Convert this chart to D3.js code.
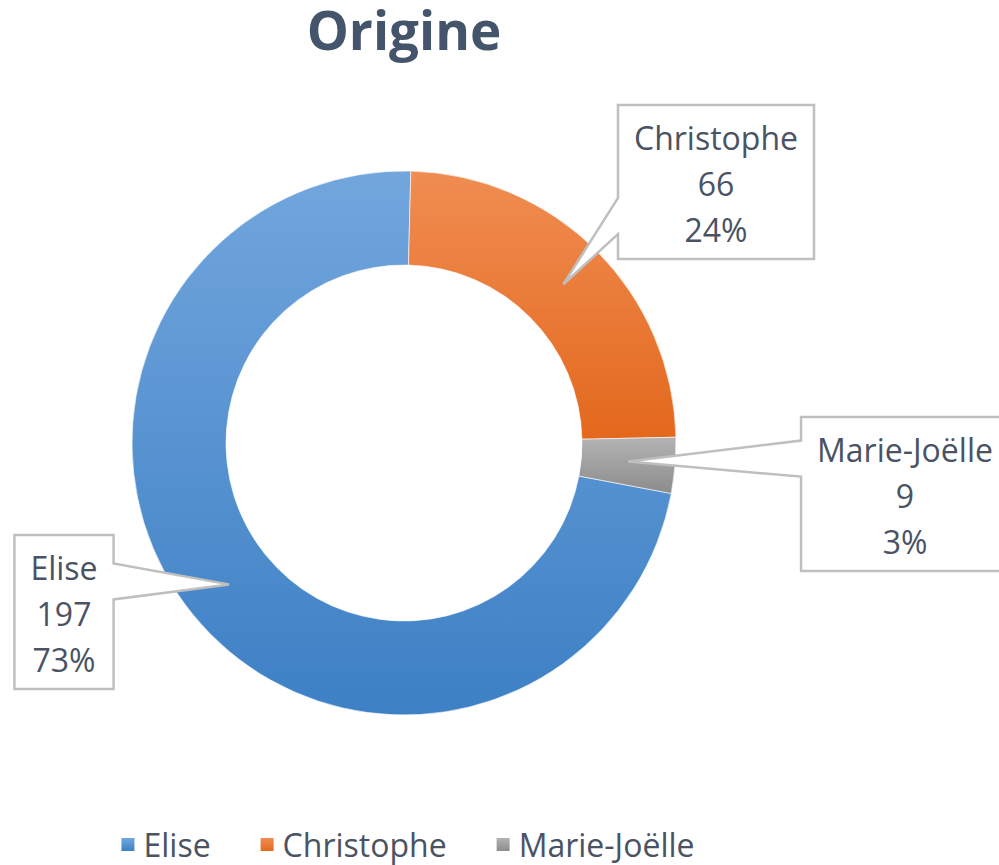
<!DOCTYPE html>
<html>
<head>
<meta charset="utf-8">
<script src="https://cdn.jsdelivr.net/npm/d3@7"></script>
<style>
  body { margin: 0; background: #fff; }
  text { font-family: "Open Sans", "Noto Sans", sans-serif; }
</style>
</head>
<body>
<svg id="chart"></svg>
<script>
// Donut chart "Origine"

// Data
const names = ["Elise", "Christophe", "Marie-Joëlle"];
const counts = [197, 66, 9];
const shares = ["73%", "24%", "3%"];

// Colours (top / bottom of each gradient)
const colorsTop = ["#72a6dd", "#f08d52", "#b3b3b3"];
const colorsBottom = ["#3d80c5", "#e3681d", "#8c8c8c"];

// Callout boxes: centre x and top y of each box
const calloutCx = [64, 716, 905];
const calloutTop = [535, 105, 417];

const width = 999, height = 865;
const cx = 404, cy = 443;
const outerR = 272, innerR = 178;
const firstSliceDeg = 100.7;
const textColor = "#4a5363";

const svg = d3.select("#chart")
  .attr("width", width)
  .attr("height", height);

const data = names.map((name, i) => ({ name, count: counts[i], share: shares[i], i }));

// Gradients
const defs = svg.append("defs");
data.forEach(d => {
  const g = defs.append("linearGradient")
    .attr("id", `grad${d.i}`)
    .attr("x1", 0).attr("y1", 0)
    .attr("x2", 0).attr("y2", 1);
  g.append("stop").attr("offset", "0%").attr("stop-color", colorsTop[d.i]);
  g.append("stop").attr("offset", "100%").attr("stop-color", colorsBottom[d.i]);
});

// Title
svg.append("text")
  .attr("x", cx)
  .attr("y", 50)
  .attr("text-anchor", "middle")
  .attr("font-size", "53px")
  .attr("font-weight", "bold")
  .attr("fill", "#44546a")
  .text("Origine");

// Donut
const start = firstSliceDeg * Math.PI / 180;
const pie = d3.pie()
  .value(d => d.count)
  .sort(null)
  .startAngle(start)
  .endAngle(start + 2 * Math.PI);

const arc = d3.arc()
  .innerRadius(innerR)
  .outerRadius(outerR);

const arcs = pie(data);

const donut = svg.append("g")
  .attr("transform", `translate(${cx},${cy})`);

donut.selectAll("path")
  .data(arcs)
  .enter()
  .append("path")
  .attr("d", arc)
  .attr("fill", d => `url(#grad${d.data.i})`)
  .attr("stroke", "#ffffff")
  .attr("stroke-width", 0.6);

// Callouts
const fontSize = 32;
const lineGap = 46;
const boxH = 154;

arcs.forEach(a => {
  const d = a.data;
  const [tx0, ty0] = arc.centroid(a);
  const tx = cx + tx0, ty = cy + ty0;

  const g = svg.append("g");
  const path = g.append("path")
    .attr("fill", "#ffffff")
    .attr("stroke", "#bfbfbf")
    .attr("stroke-width", 2.5);

  const lines = [d.name, d.count, d.share];
  const texts = lines.map((t, k) => g.append("text")
    .attr("x", calloutCx[d.i])
    .attr("y", calloutTop[d.i] + 45 + k * lineGap)
    .attr("text-anchor", "middle")
    .attr("font-size", fontSize + "px")
    .attr("fill", textColor)
    .text(t));

  const textW = d3.max(texts, t => t.node().getComputedTextLength());
  const boxW = textW + 32;
  const x0 = calloutCx[d.i] - boxW / 2, x1 = calloutCx[d.i] + boxW / 2;
  const y0 = calloutTop[d.i], y1 = y0 + boxH;
  const bc = Math.max(y0 + 38, Math.min(y1 - 43, ty - 3));
  const b0 = bc - 18, b1 = bc + 18;

  let p;
  if (tx < x0) {
    p = `M${x0},${y0}L${x1},${y0}L${x1},${y1}L${x0},${y1}L${x0},${b1}L${tx},${ty}L${x0},${b0}Z`;
  } else {
    p = `M${x0},${y0}L${x1},${y0}L${x1},${b0}L${tx},${ty}L${x1},${b1}L${x1},${y1}L${x0},${y1}Z`;
  }
  path.attr("d", p);
});

// Legend
const legendY = 857;
const sq = 13;
const legend = svg.append("g");
let lx = 0;
data.forEach(d => {
  const item = legend.append("g").attr("transform", `translate(${lx},0)`);
  item.append("rect")
    .attr("x", 0)
    .attr("y", legendY - 19)
    .attr("width", sq)
    .attr("height", sq)
    .attr("fill", `url(#grad${d.i})`);
  const t = item.append("text")
    .attr("x", sq + 9)
    .attr("y", legendY)
    .attr("font-size", fontSize + "px")
    .attr("fill", textColor)
    .text(d.name);
  lx += sq + 9 + t.node().getComputedTextLength() + 50;
});
const legendW = lx - 50;
legend.attr("transform", `translate(${408 - legendW / 2},0)`);
</script>
</body>
</html>
